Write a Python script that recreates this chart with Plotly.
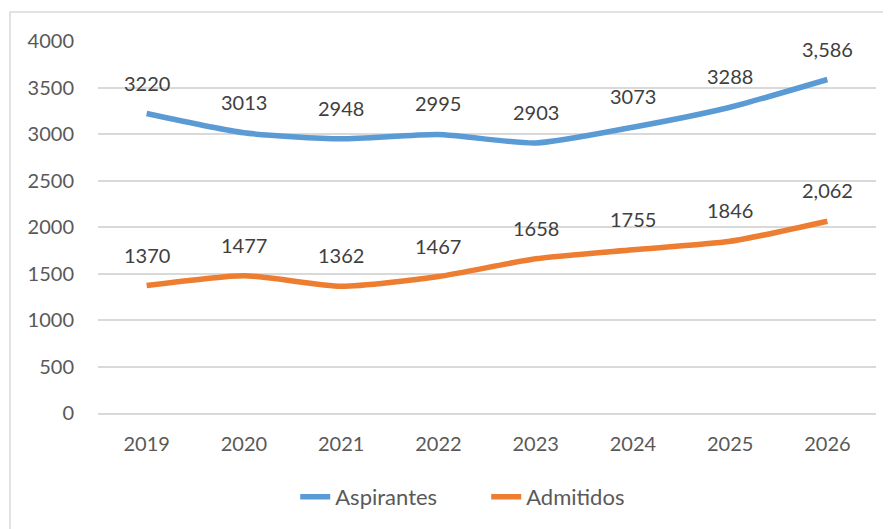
import plotly.graph_objects as go

years = ["2019", "2020", "2021", "2022", "2023", "2024", "2025", "2026"]
aspirantes = [3220, 3013, 2948, 2995, 2903, 3073, 3288, 3586]
admitidos = [1370, 1477, 1362, 1467, 1658, 1755, 1846, 2062]
aspirantes_labels = ["3220", "3013", "2948", "2995", "2903", "3073", "3288", "3,586"]
admitidos_labels = ["1370", "1477", "1362", "1467", "1658", "1755", "1846", "2,062"]

FONT = "Lato, 'Open Sans', sans-serif"
GRID = "#D9D9D9"

fig = go.Figure()
fig.add_trace(go.Scatter(
    x=years, y=aspirantes, mode="lines", name="Aspirantes",
    line=dict(color="#5B9BD5", width=5.5, shape="spline", smoothing=0.6),
))
fig.add_trace(go.Scatter(
    x=years, y=admitidos, mode="lines", name="Admitidos",
    line=dict(color="#ED7D31", width=5.5, shape="spline", smoothing=0.6),
))

# data labels above each point, Excel style (x as category index)
for vals, labels in [(aspirantes, aspirantes_labels), (admitidos, admitidos_labels)]:
    for i, (y, t) in enumerate(zip(vals, labels)):
        fig.add_annotation(x=i, y=y, text=t, showarrow=False, yshift=31,
                           font=dict(family=FONT, size=20, color="#404040"))

# chart area border (cropped on right and bottom)
fig.add_shape(type="rect", xref="paper", yref="paper",
              x0=(10 - 98) / 778, x1=1.1, y0=-0.4, y1=(413 - 12) / 372,
              line=dict(color=GRID, width=1.5), fillcolor="rgba(0,0,0,0)", layer="below")

# page body has an 8px margin, so shift the figure up/left by 8px;
# the extra height just runs off the bottom of the window
fig.update_layout(
    width=883, height=529,
    margin=dict(l=90, r=15, t=33, b=124),
    paper_bgcolor="white", plot_bgcolor="white",
    font=dict(family=FONT, size=20, color="#595959"),
    showlegend=True,
    legend=dict(orientation="h", x=0.499, xanchor="center", y=-0.226, yanchor="middle",
                font=dict(size=22, color="#595959"), entrywidth=146, tracegroupgap=0),
)
fig.update_xaxes(
    type="category", range=[-0.5, 7.5], showgrid=False,
    showline=True, linecolor=GRID, linewidth=1.5,
    ticks="outside", ticklen=12, tickcolor="rgba(0,0,0,0)",
    tickfont=dict(size=20, color="#595959"),
)
fig.update_yaxes(
    range=[0, 4000], tickvals=[0, 500, 1000, 1500, 2000, 2500, 3000, 3500, 4000],
    showgrid=True, gridcolor=GRID, gridwidth=1.5, zeroline=False,
    ticks="outside", ticklen=19, tickcolor="rgba(0,0,0,0)",
    tickfont=dict(size=20, color="#595959"),
)

fig.write_html("out.html")
